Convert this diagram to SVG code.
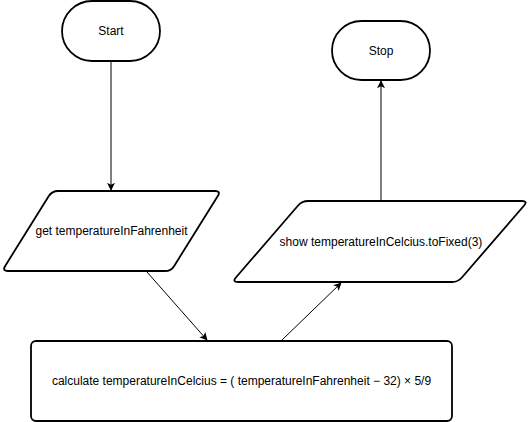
<svg xmlns="http://www.w3.org/2000/svg" width="532" height="422" viewBox="0 0 532 422">
<style>
.shape{fill:#fff;stroke:#000;stroke-width:1.8;stroke-linejoin:round}
.lbl{font-family:"Liberation Sans",Arial,sans-serif;font-size:12px;fill:#000;text-anchor:middle;dominant-baseline:central}
.edge{fill:none;stroke:#000;stroke-width:1}
</style>
<defs>
<marker id="arr" viewBox="0 0 10 10" refX="9" refY="5" markerWidth="8" markerHeight="8" markerUnits="userSpaceOnUse" orient="auto">
<path d="M0,0 L10,5 L0,10 L2.5,5 Z" fill="#000"/>
</marker>
</defs>
<rect width="532" height="422" fill="#fff"/>
<g id="connectors">
<line class="edge" x1="111" y1="62" x2="111" y2="190" marker-end="url(#arr)"/>
<line class="edge" x1="381" y1="200" x2="381" y2="81" marker-end="url(#arr)"/>
<line class="edge" x1="147" y1="272" x2="207" y2="340" marker-end="url(#arr)"/>
<line class="edge" x1="282" y1="340" x2="341" y2="283" marker-end="url(#arr)"/>
</g>
<g id="start">
<rect class="shape" x="62" y="1" width="98" height="60" rx="30" ry="30"/>
<text class="lbl" x="111" y="31">Start</text>
</g>
<g id="stop">
<rect class="shape" x="332" y="21" width="98" height="59" rx="29.5" ry="29.5"/>
<text class="lbl" x="381" y="51">Stop</text>
</g>
<g id="input">
<path class="shape" d="M58,191 L215,191 Q221,191 217.8,196.1 L174.2,265.9 Q171,271 165,271 L8,271 Q2,271 5.2,265.9 L48.8,196.1 Q52,191 58,191 Z"/>
<text class="lbl" x="111.5" y="231">get temperatureInFahrenheit</text>
</g>
<g id="output">
<path class="shape" d="M308,201 L522,201 Q528,201 524.1,205.5 L461.9,277.5 Q458,282 452,282 L238,282 Q232,282 235.9,277.5 L298.1,205.5 Q302,201 308,201 Z"/>
<text class="lbl" x="381" y="241.5">show temperatureInCelcius.toFixed(3)</text>
</g>
<g id="process">
<rect class="shape" x="31" y="341" width="421" height="80" rx="5" ry="5"/>
<text class="lbl" x="241.5" y="381">calculate temperatureInCelcius = ( temperatureInFahrenheit − 32) × 5/9</text>
</g>
</svg>
